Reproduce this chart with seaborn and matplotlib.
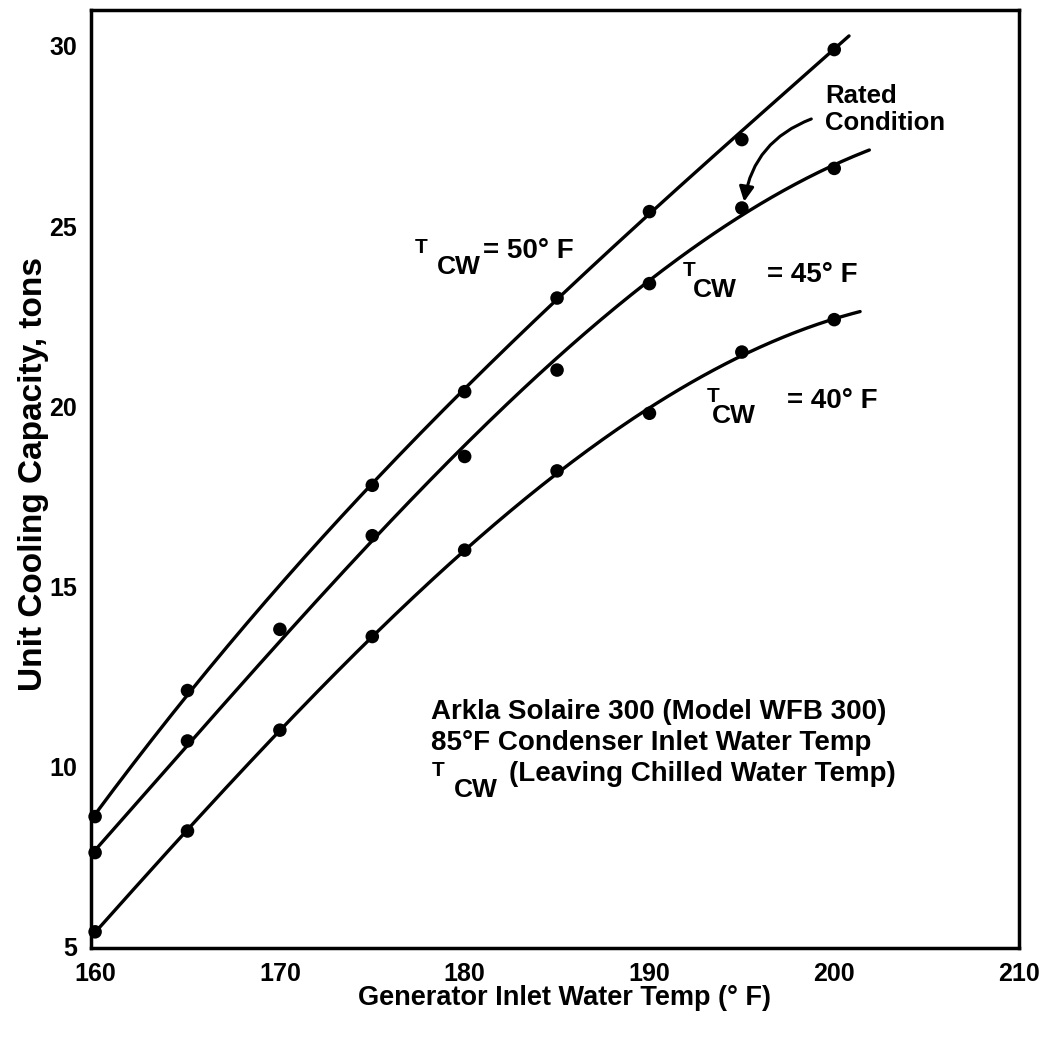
import numpy as np
import pandas as pd
import matplotlib
matplotlib.use("Agg")
import matplotlib.pyplot as plt
import seaborn as sns

# values
temps = [160, 165, 170, 175, 180, 185, 190, 195, 200]
cap_50 = [8.6, 12.1, np.nan, 17.8, 20.4, 23.0, 25.4, 27.4, 29.9]
cap_45 = [7.6, 10.7, 13.8, 16.4, 18.6, 21.0, 23.4, 25.5, 26.6]
cap_40 = [5.4, 8.2, 11.0, 13.6, 16.0, 18.2, 19.8, 21.5, 22.4]
series = ["50", "45", "40"]
curve_end = [200.8, 201.9, 201.4]
# how much each point pulls on the hand-drawn curve
fit_weight = [[1, 1, 0, 1, 1, 1, 1, 0.2, 1],
              [1.5, 1, 0.8, 1, 1, 1, 1, 2, 2],
              [1, 1, 1, 1, 1, 1, 1, 1, 1]]
x_ticks = [160, 170, 180, 190, 200, 210]
y_ticks = [5, 10, 15, 20, 25, 30]

sns.set_style("white")
plt.rcParams['font.family'] = ['Liberation Sans', 'DejaVu Sans']
plt.rcParams['font.weight'] = 'bold'
for k in ['text.color', 'axes.labelcolor', 'xtick.color', 'ytick.color', 'axes.edgecolor']:
    plt.rcParams[k] = 'black'

df = pd.DataFrame({"temp": temps * 3,
                   "cap": cap_50 + cap_45 + cap_40,
                   "w": sum(fit_weight, []),
                   "tcw": [s for s in series for _ in temps]}).dropna()

# smooth curves: weighted cubic fit through each series
curves = []
for s, xend in zip(series, curve_end):
    d = df[df["tcw"] == s]
    coef = np.polyfit(d["temp"], d["cap"], 3, w=d["w"])
    xs = np.linspace(160, xend, 200)
    curves.append(pd.DataFrame({"temp": xs, "cap": np.polyval(coef, xs), "tcw": s}))
curves = pd.concat(curves)

fig = plt.figure(figsize=(10.5, 10.37), dpi=100)
ax = fig.add_axes([0.0867, 0.0858, 0.8838, 0.9046])

black = {"50": "black", "45": "black", "40": "black"}
sns.lineplot(data=curves, x="temp", y="cap", hue="tcw", palette=black,
             linewidth=2.4, legend=False, ax=ax, sort=False, estimator=None)
sns.scatterplot(data=df, x="temp", y="cap", hue="tcw", palette=black,
                s=95, edgecolor="black", linewidth=0, legend=False, ax=ax,
                zorder=3, clip_on=False)

ax.set_xlim(159.78, 210)
ax.set_ylim(4.95, 31.0)
ax.set_xticks(x_ticks)
ax.set_yticks(y_ticks)
ax.tick_params(direction="in", length=16, width=1.6, labelsize=18, pad=10)
for sp in ax.spines.values():
    sp.set_linewidth(2.5)

ax.set_xlabel("Generator Inlet Water Temp (° F)", fontsize=19.5, fontweight="bold")
ax.set_ylabel("Unit Cooling Capacity, tons", fontsize=24, fontweight="bold")
ax.xaxis.set_label_coords(0.51, -0.039)
ax.yaxis.set_label_coords(-0.045, 0.505)


def tcw_label(x, y, rest, cw_dx, rest_dx, size=20):
    ax.annotate("T", (x, y), xytext=(0, 4), textcoords="offset points",
                fontsize=size * 0.75, fontweight="bold", va="baseline")
    ax.annotate("CW", (x, y), xytext=(cw_dx, -11), textcoords="offset points",
                fontsize=size * 0.95, fontweight="bold", va="baseline")
    ax.annotate(rest, (x, y), xytext=(rest_dx, 0), textcoords="offset points",
                fontsize=size, fontweight="bold", va="baseline")


tcw_label(177.3, 24.1, "= 50° F", 16, 49)
tcw_label(191.8, 23.45, "= 45° F", 7, 61)
tcw_label(193.1, 19.95, "= 40° F", 4, 58)

ax.text(199.5, 28.95, "Rated\nCondition", fontsize=18.5, fontweight="bold",
        va="top", ha="left", linespacing=1.15)
ax.annotate("", xy=(195.1, 25.6), xytext=(198.9, 28.0),
            arrowprops=dict(arrowstyle="-|>", color="black", lw=2.2,
                            mutation_scale=22,
                            connectionstyle="arc3,rad=0.3"))

note_lines = ["Arkla Solaire 300 (Model WFB 300)", "85°F Condenser Inlet Water Temp"]
ax.text(178.2, 11.3, note_lines[0], fontsize=20, fontweight="bold", va="baseline")
ax.text(178.2, 10.45, note_lines[1], fontsize=20, fontweight="bold", va="baseline")
tcw_label(178.2, 9.58, "(Leaving Chilled Water Temp)", 16, 56)

fig.savefig("out.png", dpi=100)
